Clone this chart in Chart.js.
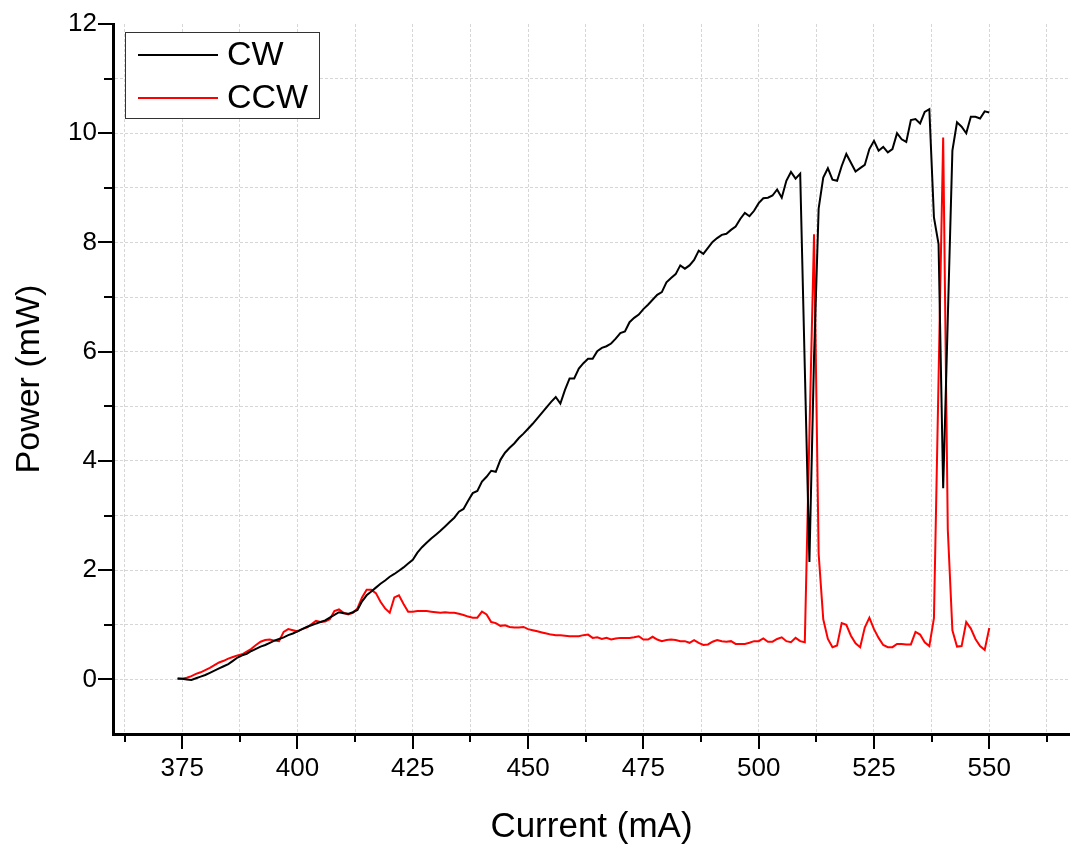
<!DOCTYPE html>
<html>
<head>
<meta charset="utf-8">
<title>Power vs Current</title>
<script src="https://cdn.jsdelivr.net/npm/chart.js@4.4.1/dist/chart.umd.min.js"></script>
<style>
  html, body { margin: 0; padding: 0; background: #fff; }
  #wrap { width: 1070px; height: 847px; }
</style>
</head>
<body>
<div id="wrap"><canvas id="grafico" width="1070" height="847"></canvas></div>
<script>
// corriente en mA (eje x)
const corriente = [
  374, 375, 376, 377, 378, 379, 380, 381, 382, 383, 384, 385, 386, 387, 388, 389, 390, 391, 392, 393,
  394, 395, 396, 397, 398, 399, 400, 401, 402, 403, 404, 405, 406, 407, 408, 409, 410, 411, 412, 413,
  414, 415, 416, 417, 418, 419, 420, 421, 422, 423, 424, 425, 426, 427, 428, 429, 430, 431, 432, 433,
  434, 435, 436, 437, 438, 439, 440, 441, 442, 443, 444, 445, 446, 447, 448, 449, 450, 451, 452, 453,
  454, 455, 456, 457, 458, 459, 460, 461, 462, 463, 464, 465, 466, 467, 468, 469, 470, 471, 472, 473,
  474, 475, 476, 477, 478, 479, 480, 481, 482, 483, 484, 485, 486, 487, 488, 489, 490, 491, 492, 493,
  494, 495, 496, 497, 498, 499, 500, 501, 502, 503, 504, 505, 506, 507, 508, 509, 510, 511, 512, 513,
  514, 515, 516, 517, 518, 519, 520, 521, 522, 523, 524, 525, 526, 527, 528, 529, 530, 531, 532, 533,
  534, 535, 536, 537, 538, 539, 540, 541, 542, 543, 544, 545, 546, 547, 548, 549, 550
];

// potencia CW en mW
const potenciaCW = [
  0.01, 0.01, 0.00, -0.01, 0.02, 0.05, 0.08, 0.12, 0.16, 0.20, 0.24, 0.28, 0.34, 0.40, 0.44, 0.47, 0.52, 0.56, 0.60, 0.63,
  0.67, 0.71, 0.74, 0.77, 0.81, 0.84, 0.88, 0.92, 0.96, 0.99, 1.02, 1.05, 1.08, 1.13, 1.18, 1.23, 1.21, 1.20, 1.23, 1.27,
  1.43, 1.54, 1.61, 1.68, 1.75, 1.81, 1.88, 1.93, 1.99, 2.05, 2.12, 2.19, 2.32, 2.42, 2.50, 2.58, 2.65, 2.72, 2.80, 2.88,
  2.96, 3.07, 3.12, 3.27, 3.41, 3.45, 3.62, 3.71, 3.82, 3.80, 4.02, 4.15, 4.24, 4.32, 4.42, 4.50, 4.59, 4.68, 4.78, 4.88,
  4.98, 5.08, 5.17, 5.05, 5.30, 5.51, 5.51, 5.69, 5.79, 5.87, 5.87, 6.01, 6.07, 6.10, 6.15, 6.24, 6.34, 6.37, 6.54, 6.62,
  6.68, 6.78, 6.86, 6.95, 7.04, 7.09, 7.27, 7.35, 7.42, 7.58, 7.52, 7.58, 7.68, 7.85, 7.79, 7.90, 8.01, 8.08, 8.14, 8.16,
  8.23, 8.29, 8.43, 8.54, 8.48, 8.58, 8.72, 8.81, 8.82, 8.86, 8.97, 8.82, 9.13, 9.29, 9.17, 9.26, 5.70, 2.15, 5.90, 8.62,
  9.19, 9.36, 9.15, 9.13, 9.40, 9.62, 9.46, 9.30, 9.36, 9.42, 9.71, 9.86, 9.68, 9.75, 9.65, 9.71, 10.00, 9.89, 9.84, 10.24,
  10.26, 10.18, 10.39, 10.44, 8.46, 7.97, 3.50, 6.60, 9.68, 10.20, 10.12, 10.00, 10.30, 10.30, 10.27, 10.40, 10.38
];

// potencia CCW en mW
const potenciaCCW = [
  0.02, 0.01, 0.03, 0.06, 0.10, 0.13, 0.17, 0.21, 0.26, 0.31, 0.34, 0.38, 0.41, 0.44, 0.46, 0.51, 0.56, 0.63, 0.69, 0.72,
  0.73, 0.71, 0.70, 0.87, 0.92, 0.90, 0.88, 0.92, 0.95, 1.01, 1.07, 1.05, 1.06, 1.10, 1.25, 1.28, 1.22, 1.19, 1.22, 1.30,
  1.50, 1.64, 1.64, 1.58, 1.42, 1.30, 1.22, 1.50, 1.54, 1.38, 1.24, 1.24, 1.25, 1.25, 1.25, 1.24, 1.23, 1.22, 1.23, 1.22,
  1.22, 1.20, 1.18, 1.15, 1.13, 1.13, 1.24, 1.19, 1.05, 1.03, 0.98, 0.99, 0.96, 0.95, 0.95, 0.96, 0.92, 0.90, 0.88, 0.86,
  0.84, 0.82, 0.81, 0.81, 0.80, 0.79, 0.79, 0.79, 0.81, 0.82, 0.76, 0.77, 0.74, 0.76, 0.73, 0.75, 0.76, 0.76, 0.76, 0.77,
  0.79, 0.73, 0.73, 0.78, 0.73, 0.70, 0.72, 0.73, 0.72, 0.70, 0.70, 0.67, 0.72, 0.67, 0.63, 0.64, 0.69, 0.72, 0.70, 0.69,
  0.70, 0.65, 0.65, 0.65, 0.67, 0.70, 0.70, 0.75, 0.69, 0.69, 0.74, 0.77, 0.70, 0.68, 0.76, 0.70, 0.68, 4.50, 8.15, 2.30,
  1.10, 0.74, 0.59, 0.62, 1.03, 1.00, 0.80, 0.66, 0.59, 0.95, 1.13, 0.92, 0.76, 0.63, 0.59, 0.59, 0.65, 0.65, 0.64, 0.64,
  0.87, 0.82, 0.68, 0.61, 1.12, 5.50, 9.92, 2.75, 0.90, 0.60, 0.61, 1.05, 0.93, 0.74, 0.61, 0.54, 0.94
];

// marcas de los ejes
const xTicks = [362.5, 375, 387.5, 400, 412.5, 425, 437.5, 450, 462.5, 475, 487.5, 500, 512.5, 525, 537.5, 550, 562.5];
const xTickLabels = [375, 400, 425, 450, 475, 500, 525, 550];
const yTicks = [-1, 0, 1, 2, 3, 4, 5, 6, 7, 8, 9, 10, 11, 12];
const yTickLabels = [0, 2, 4, 6, 8, 10, 12];

const fuente = 'Arial, "Liberation Sans", sans-serif';

const toPoints = (ys) => corriente.map((x, i) => ({ x, y: ys[i] }));

// marcas largas y cortas hacia fuera de los ejes
const marcasEjes = {
  id: 'marcasEjes',
  afterDraw(chart) {
    const { ctx, chartArea } = chart;
    const sx = chart.scales.x;
    const sy = chart.scales.y;
    ctx.save();
    ctx.strokeStyle = '#000';
    ctx.lineWidth = 2;
    ctx.beginPath();
    for (const v of xTicks) {
      const px = Math.round(sx.getPixelForValue(v));
      const len = xTickLabels.includes(v) ? 15 : 8;
      ctx.moveTo(px, chartArea.bottom);
      ctx.lineTo(px, chartArea.bottom + len);
    }
    for (const v of yTicks) {
      if (v === -1) continue;
      const py = Math.round(sy.getPixelForValue(v));
      const len = yTickLabels.includes(v) ? 15 : 9;
      ctx.moveTo(chartArea.left, py);
      ctx.lineTo(chartArea.left - len, py);
    }
    ctx.stroke();
    ctx.restore();
  }
};

// leyenda dentro del área del gráfico
const leyenda = {
  id: 'leyenda',
  afterDraw(chart) {
    const { ctx, chartArea } = chart;
    const x0 = chartArea.left + 12;
    const y0 = chartArea.top + 8;
    ctx.save();
    ctx.fillStyle = '#fff';
    ctx.fillRect(x0, y0, 194, 86);
    ctx.strokeStyle = '#333';
    ctx.lineWidth = 1;
    ctx.strokeRect(x0 + 0.5, y0 + 0.5, 194, 86);
    chart.data.datasets.forEach((ds, i) => {
      const ly = y0 + 23 + i * 43;
      ctx.strokeStyle = ds.borderColor;
      ctx.lineWidth = 2;
      ctx.beginPath();
      ctx.moveTo(x0 + 13, ly);
      ctx.lineTo(x0 + 93, ly);
      ctx.stroke();
      ctx.fillStyle = '#000';
      ctx.font = '34px ' + fuente;
      ctx.textBaseline = 'middle';
      ctx.fillText(ds.label, x0 + 102, ly + 1);
    });
    ctx.restore();
  }
};

const gridColor = (c) => (c.tick && (c.tick.value === -1 || c.tick.value === 12)) ? 'rgba(0,0,0,0)' : '#d6d6d6';

new Chart(document.getElementById('grafico'), {
  type: 'line',
  data: {
    datasets: [
      { label: 'CW', data: toPoints(potenciaCW), borderColor: '#000000', borderWidth: 2, pointRadius: 0, tension: 0, fill: false },
      { label: 'CCW', data: toPoints(potenciaCCW), borderColor: '#ff0000', borderWidth: 2, pointRadius: 0, tension: 0, fill: false }
    ]
  },
  options: {
    responsive: false,
    animation: false,
    devicePixelRatio: 1,
    layout: { padding: { top: 24, right: 0, left: 0, bottom: 0 } },
    plugins: {
      legend: { display: false },
      tooltip: { enabled: false }
    },
    scales: {
      x: {
        type: 'linear',
        min: 360,
        max: 567.5,
        afterBuildTicks: (scale) => { scale.ticks = xTicks.map(v => ({ value: v })); },
        afterFit: (scale) => {
          scale.height = 113;
          scale.paddingLeft = 0;
          scale.paddingRight = 0;
        },
        grid: { color: '#d6d6d6', lineWidth: 1, drawTicks: false },
        border: { display: true, color: '#000', width: 3, dash: [3, 2] },
        ticks: {
          padding: 19,
          color: '#000',
          font: { family: fuente, size: 26 },
          maxRotation: 0,
          autoSkip: false,
          callback: (v) => xTickLabels.includes(v) ? String(v) : ''
        },
        title: {
          display: true,
          text: 'Current (mA)',
          color: '#000',
          font: { family: fuente, size: 35, lineHeight: 1.1 },
          padding: { top: 0, bottom: 0 }
        }
      },
      y: {
        type: 'linear',
        min: -1,
        max: 12,
        afterBuildTicks: (scale) => { scale.ticks = yTicks.map(v => ({ value: v })); },
        afterFit: (scale) => {
          scale.width = 113;
          scale.paddingTop = 0;
          scale.paddingBottom = 0;
        },
        grid: { color: gridColor, lineWidth: 1, drawTicks: false },
        border: { display: true, color: '#000', width: 3, dash: [3, 2] },
        ticks: {
          padding: 16,
          color: '#000',
          font: { family: fuente, size: 26 },
          autoSkip: false,
          callback: (v) => yTickLabels.includes(v) ? String(v) : ''
        },
        title: {
          display: true,
          text: 'Power (mW)',
          color: '#000',
          font: { family: fuente, size: 34 },
          padding: { top: 9, bottom: 0 }
        }
      }
    }
  },
  plugins: [marcasEjes, leyenda]
});
</script>
</body>
</html>
